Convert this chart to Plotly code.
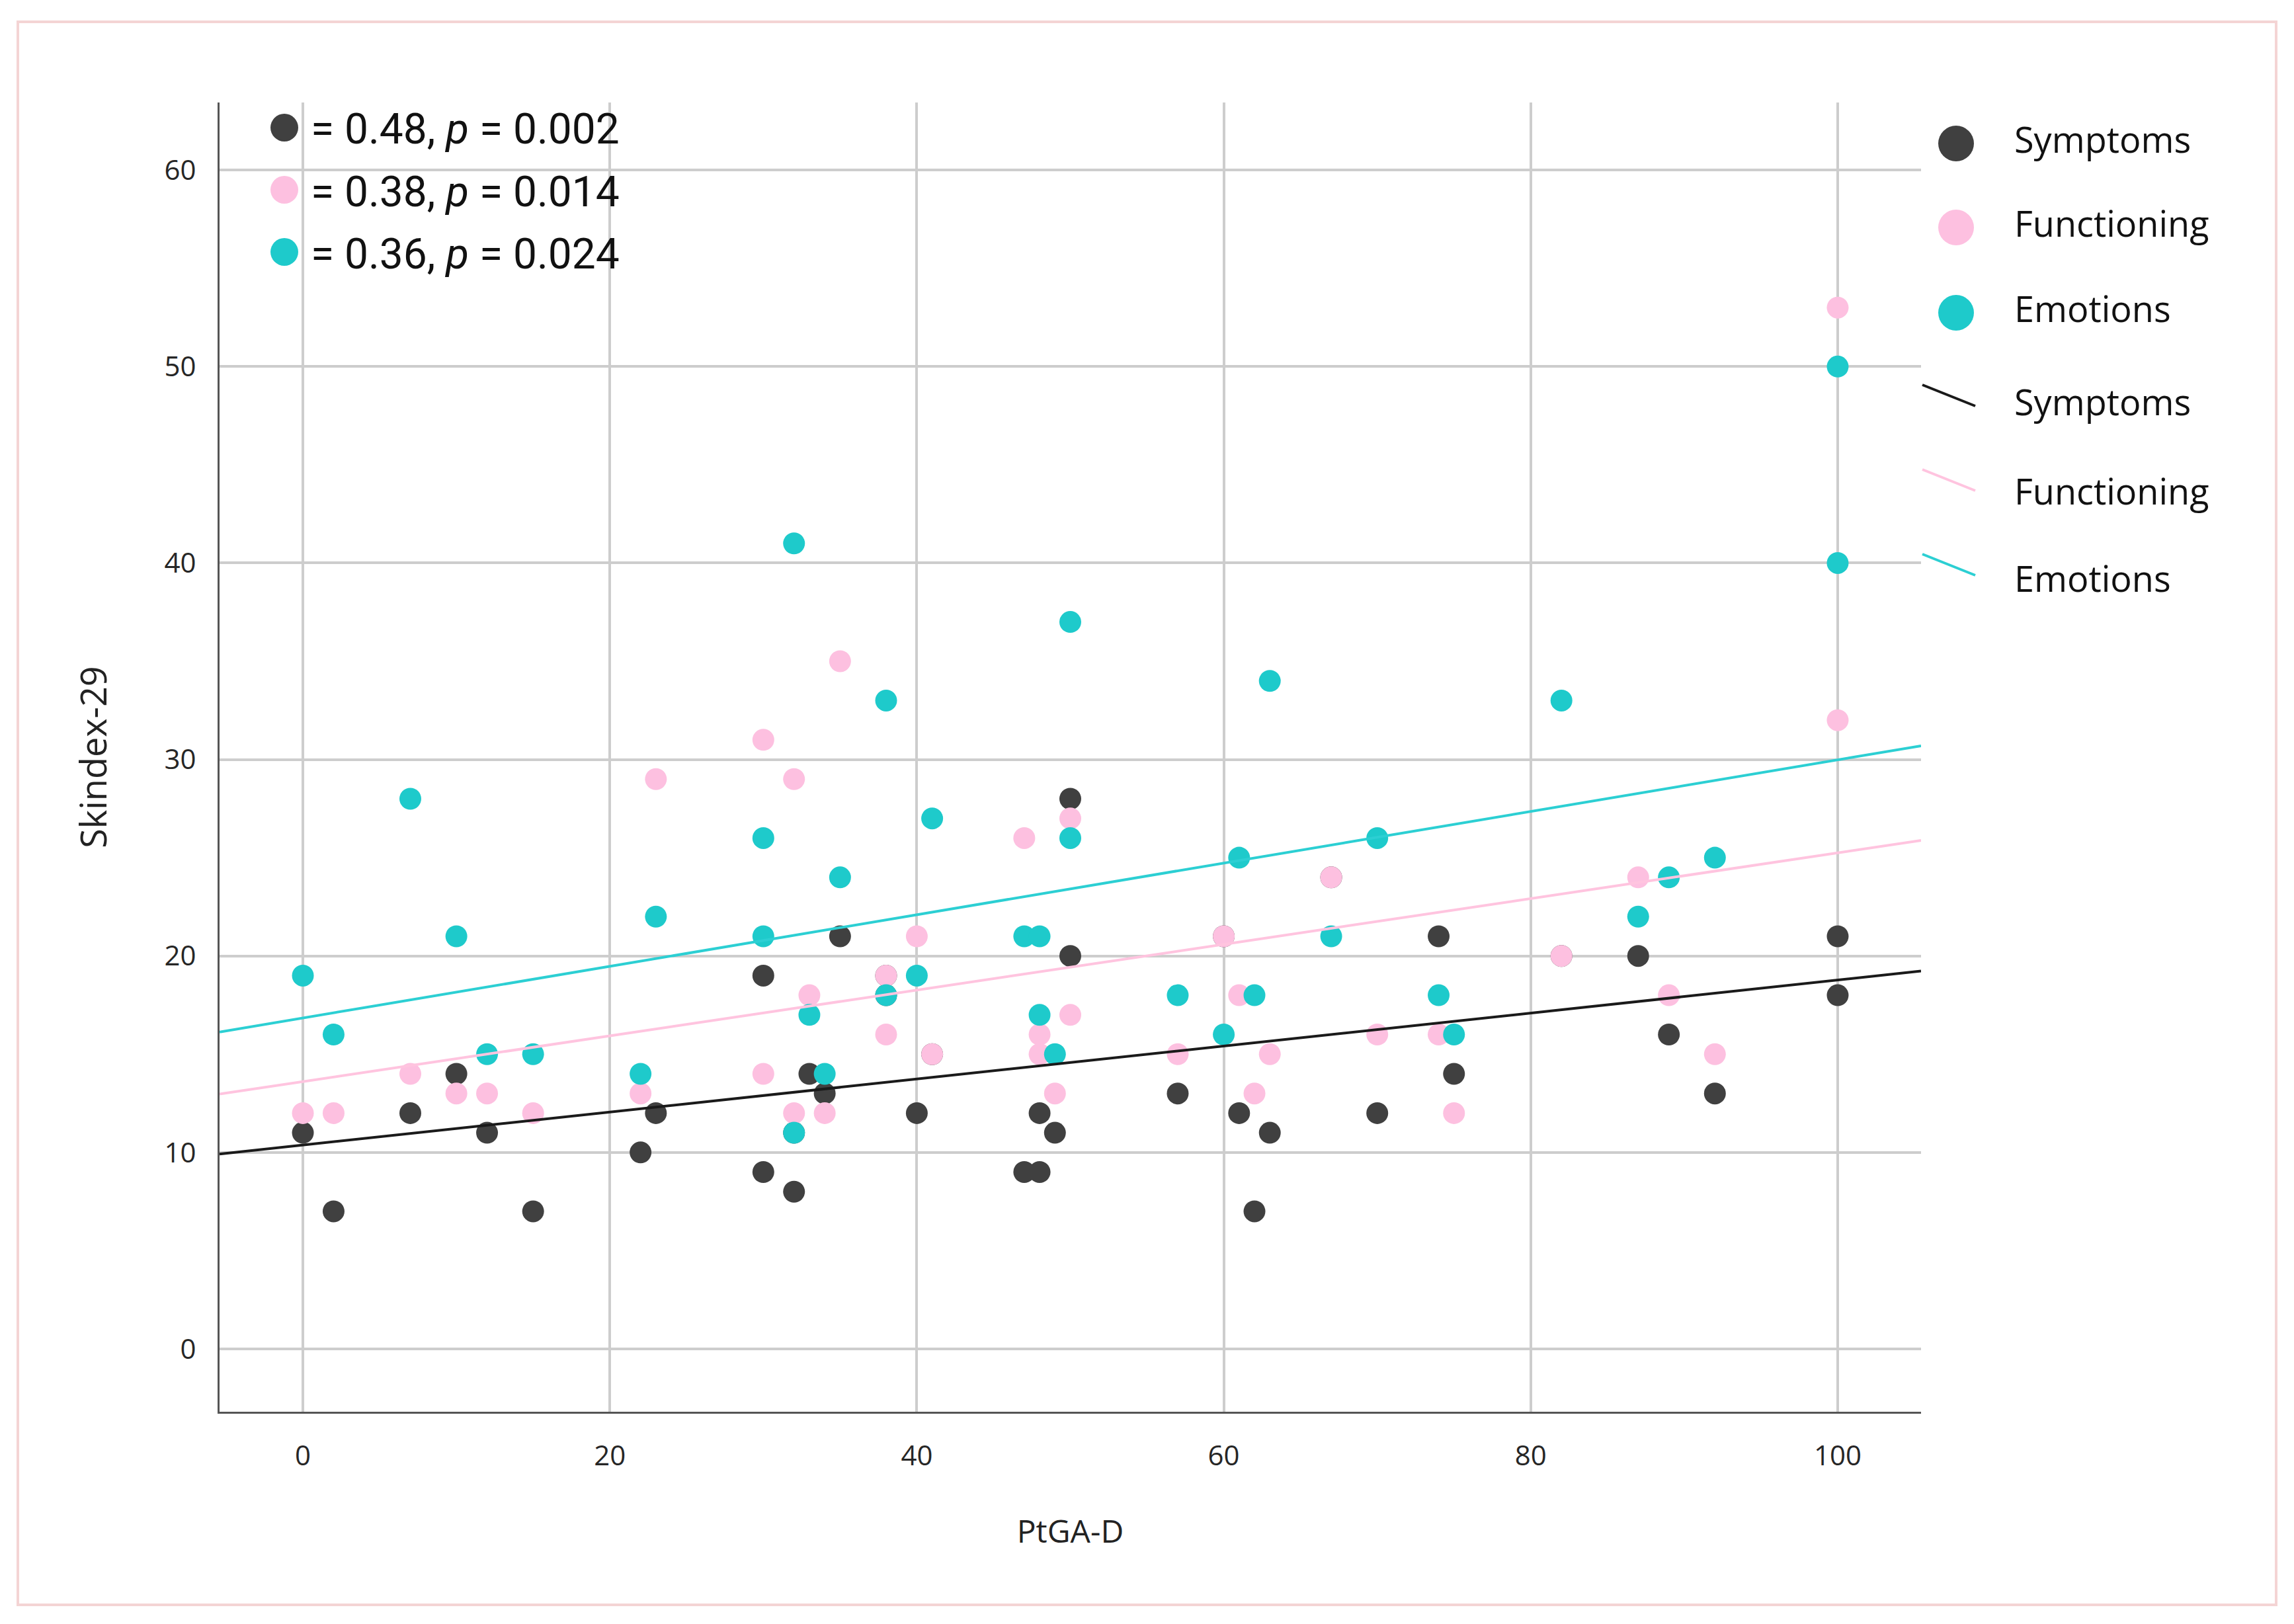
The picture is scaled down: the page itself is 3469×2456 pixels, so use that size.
import numpy as np
import plotly.graph_objects as go

# ---------------- data ----------------
ptga_d = [0, 2, 7, 10, 12, 15, 22, 23, 30, 30, 32, 32, 33, 34, 35, 38, 38, 40, 41, 47,
          48, 48, 49, 50, 50, 57, 60, 61, 62, 63, 67, 70, 74, 75, 82, 87, 89, 92, 100, 100]
symptoms = [11, 7, 12, 14, 11, 7, 10, 12, 19, 9, 8, 11, 14, 13, 21, 18, 19, 12, 15, 9,
            9, 12, 11, 28, 20, 13, 21, 12, 7, 11, 24, 12, 21, 14, 20, 20, 16, 13, 21, 18]
functioning = [12, 12, 14, 13, 13, 12, 13, 29, 31, 14, 29, 12, 18, 12, 35, 19, 16, 21, 15, 26,
               16, 15, 13, 27, 17, 15, 21, 18, 13, 15, 24, 16, 16, 12, 20, 24, 18, 15, 53, 32]
emotions = [19, 16, 28, 21, 15, 15, 14, 22, 26, 21, 41, 11, 17, 14, 24, 33, 18, 19, 27, 21,
            21, 17, 15, 37, 26, 18, 16, 25, 18, 34, 21, 26, 18, 16, 33, 22, 24, 25, 50, 40]

series_names = ["Symptoms", "Functioning", "Emotions"]
stats_text = ["= 0.48, <i>p</i> = 0.002", "= 0.38, <i>p</i> = 0.014", "= 0.36, <i>p</i> = 0.024"]
x_ticks = [0, 20, 40, 60, 80, 100]
y_ticks = [0, 10, 20, 30, 40, 50, 60]
x_title = "PtGA-D"
y_title = "Skindex-29"

# ---------------- styling ----------------
marker_colors = ["#404040", "#fdc0e0", "#1ecacb"]
line_colors = ["#1a1a1a", "#ffc4df", "#2ccfd3"]
FONT = "Open Sans, Noto Sans, sans-serif"
NARROW = "Liberation Sans Narrow, Roboto, sans-serif"

# window is 3469x2456; the page body has an 8 px margin
WIN_W, WIN_H = 3469, 2456
OFF = 8
W, H = WIN_W - 2 * OFF, WIN_H - 2 * OFF
PLOT_L, PLOT_R, PLOT_T, PLOT_B = 332, 2905, 155, 2135   # window pixel coords of plot area
L, T = PLOT_L - OFF, PLOT_T - OFF
R, B = W - (PLOT_R - OFF), H - (PLOT_B - OFF)
PW, PH = PLOT_R - PLOT_L, PLOT_B - PLOT_T
X_RANGE = [-5.43, 105.43]
Y_RANGE = [-3.2, 63.44]


def pxx(v):
    return (v - PLOT_L) / PW


def pxy(v):
    return (PLOT_B - v) / PH


fig = go.Figure()

all_series = [symptoms, functioning, emotions]
for name, vals, col in zip(series_names, all_series, marker_colors):
    fig.add_trace(go.Scatter(
        x=ptga_d, y=vals, mode="markers", name=name, showlegend=False,
        marker=dict(size=33, color=col, line=dict(width=0)),
    ))

# linear fit lines computed from the data
xl = np.array(X_RANGE)
for name, vals, col in zip(series_names, all_series, line_colors):
    slope, intercept = np.polyfit(ptga_d, vals, 1)
    fig.add_trace(go.Scatter(
        x=xl, y=slope * xl + intercept, mode="lines", name=name + " fit",
        showlegend=False, line=dict(color=col, width=4),
    ))

shapes = []
annotations = []

# white box behind the correlation text (covers the gridlines)
shapes.append(dict(type="rect", xref="paper", yref="paper",
                   x0=pxx(345), x1=pxx(1200), y0=pxy(498), y1=pxy(157),
                   fillcolor="white", line=dict(width=0), layer="between"))

# correlation text with coloured dots
for i, (txt, col) in enumerate(zip(stats_text, marker_colors)):
    cy = [193, 287, 381][i]
    shapes.append(dict(type="circle", xref="paper", yref="paper",
                       xsizemode="pixel", ysizemode="pixel",
                       xanchor=pxx(430), yanchor=pxy(cy),
                       x0=-21, x1=21, y0=-21, y1=21,
                       fillcolor=col, line=dict(width=0), layer="above"))
    annotations.append(dict(xref="paper", yref="paper", x=pxx(468), y=pxy(cy + 3),
                            xanchor="left", yanchor="middle", showarrow=False,
                            text=txt, font=dict(family=NARROW, size=64, color="#111")))

# custom legend (markers + fit lines)
for i, (name, col) in enumerate(zip(series_names, marker_colors)):
    cy = [217, 344, 473][i]
    shapes.append(dict(type="circle", xref="paper", yref="paper",
                       xsizemode="pixel", ysizemode="pixel",
                       xanchor=pxx(2958), yanchor=pxy(cy),
                       x0=-27, x1=27, y0=-27, y1=27,
                       fillcolor=col, line=dict(width=0), layer="above"))
    annotations.append(dict(xref="paper", yref="paper", x=pxx(3044), y=pxy(cy - 7),
                            xanchor="left", yanchor="middle", showarrow=False,
                            text=name, font=dict(family=FONT, size=54, color="#111")))
for i, (name, col) in enumerate(zip(series_names, line_colors)):
    y0 = [582, 710, 838][i]
    shapes.append(dict(type="line", xref="paper", yref="paper",
                       x0=pxx(2907), x1=pxx(2987), y0=pxy(y0), y1=pxy(y0 + 32),
                       line=dict(color=col, width=4), layer="above"))
    annotations.append(dict(xref="paper", yref="paper", x=pxx(3044), y=pxy([607, 742, 874][i]),
                            xanchor="left", yanchor="middle", showarrow=False,
                            text=name, font=dict(family=FONT, size=54, color="#111")))

# faint pink frame around the whole figure
shapes.append(dict(type="rect", xref="paper", yref="paper",
                   x0=pxx(27), x1=pxx(3442), y0=pxy(2427), y1=pxy(33),
                   line=dict(color="#f4d4d4", width=4), fillcolor="rgba(0,0,0,0)",
                   layer="above"))

fig.update_layout(
    width=W, height=H,
    margin=dict(l=L, r=R, t=T, b=B, autoexpand=False),
    paper_bgcolor="white", plot_bgcolor="white",
    font=dict(family=FONT, color="#222"),
    shapes=shapes, annotations=annotations,
    showlegend=False,
)
fig.update_xaxes(
    range=X_RANGE, tickvals=x_ticks, ticktext=[str(v) for v in x_ticks],
    showgrid=True, gridcolor="#cdcdcd", gridwidth=4,
    showline=True, linecolor="#555555", linewidth=3, zeroline=False,
    ticks="", ticklabelstandoff=28, tickfont=dict(size=42, color="#262626"),
    title=dict(text=x_title, font=dict(size=48, color="#222"), standoff=72),
)
fig.update_yaxes(
    range=Y_RANGE, tickvals=y_ticks, ticktext=[str(v) for v in y_ticks],
    showgrid=True, gridcolor="#cdcdcd", gridwidth=4,
    showline=True, linecolor="#555555", linewidth=3, zeroline=False,
    ticks="", ticklabelstandoff=24, tickfont=dict(size=42, color="#262626"),
    title=dict(text=y_title, font=dict(size=54, color="#222"), standoff=70),
)

fig.write_html("out.html")
